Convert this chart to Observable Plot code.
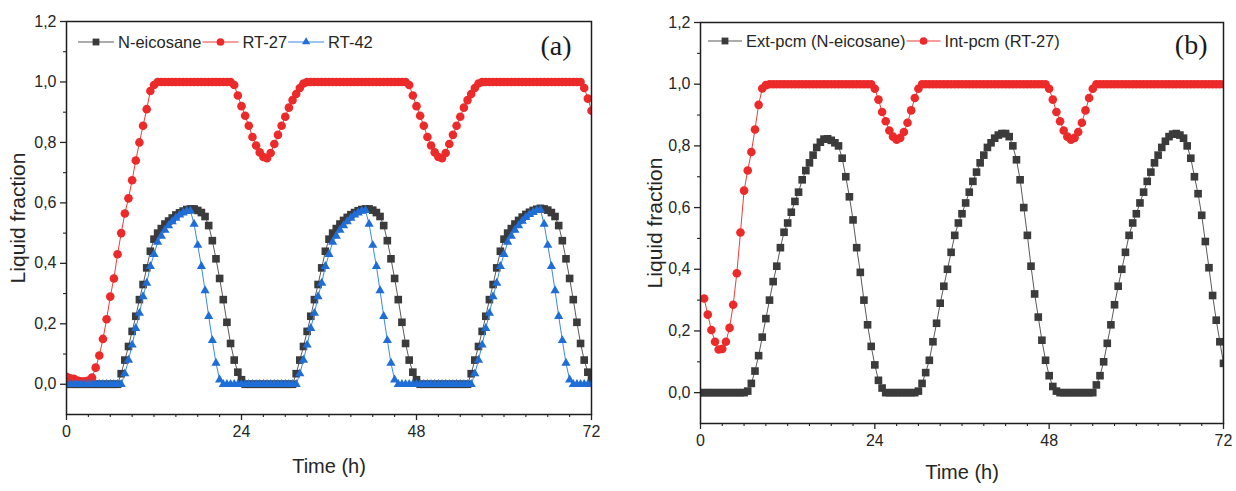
<!DOCTYPE html>
<html>
<head>
<meta charset="utf-8">
<script src="https://cdn.jsdelivr.net/npm/d3@7"></script>
<script src="https://cdn.jsdelivr.net/npm/@observablehq/plot@0.6"></script>
<style>
  html, body { margin: 0; padding: 0; background: #fff; }
  #fig { position: relative; width: 1236px; height: 491px; overflow: hidden;
         font-family: "Liberation Sans", Arial, sans-serif; }
  #fig > .panel { position: absolute; top: 0; }
</style>
</head>
<body>
<div id="fig">
  <div class="panel" id="panelA" style="left:0px"></div>
  <div class="panel" id="panelB" style="left:618px"></div>
</div>
<script>
// Sampling interval of the simulation output (hours)
const STEP = 0.5;
const time = d3.range(0, 72 + STEP / 2, STEP); // 0 … 72 h

// Axis ticks
const xTicks = [0, 24, 48, 72];
const xMinorTicks = [3, 6, 9, 12, 15, 18, 21, 27, 30, 33, 36, 39, 42, 45, 51, 54, 57, 60, 63, 66, 69];
const yTicks = [0, 0.2, 0.4, 0.6, 0.8, 1.0, 1.2];
const yMinorTicks = [0.1, 0.3, 0.5, 0.7, 0.9, 1.1];

// ---- Panel (a): liquid fraction of each PCM (one value every 0.5 h, rows of 6 h)
const aEicosane = [
  0, 0, 0, 0, 0, 0, 0, 0, 0, 0, 0, 0,
  0, 0, 0, 0.035, 0.08, 0.125, 0.175, 0.225, 0.28, 0.33, 0.385, 0.44,
  0.48, 0.50, 0.515, 0.53, 0.54, 0.55, 0.56, 0.567, 0.573, 0.578, 0.58, 0.58,
  0.575, 0.568, 0.555, 0.525, 0.475, 0.415, 0.35, 0.28, 0.205, 0.135, 0.08, 0.04,
  0.015, 0, 0, 0, 0, 0, 0, 0, 0, 0, 0, 0,
  0, 0, 0, 0.035, 0.08, 0.125, 0.175, 0.225, 0.28, 0.33, 0.385, 0.44,
  0.48, 0.50, 0.515, 0.53, 0.542, 0.552, 0.561, 0.568, 0.574, 0.578, 0.58, 0.58,
  0.576, 0.568, 0.555, 0.525, 0.475, 0.415, 0.35, 0.28, 0.205, 0.135, 0.08, 0.04,
  0.015, 0, 0, 0, 0, 0, 0, 0, 0, 0, 0, 0,
  0, 0, 0, 0.035, 0.08, 0.125, 0.175, 0.225, 0.28, 0.33, 0.385, 0.44,
  0.48, 0.50, 0.515, 0.53, 0.542, 0.553, 0.562, 0.569, 0.575, 0.579, 0.582, 0.58,
  0.576, 0.568, 0.555, 0.525, 0.475, 0.415, 0.35, 0.28, 0.205, 0.135, 0.08, 0.04,
  0.015
];
const aRT27 = [
  0.025, 0.02, 0.018, 0.012, 0.01, 0.01, 0.012, 0.022, 0.055, 0.095, 0.15, 0.215,
  0.29, 0.35, 0.43, 0.50, 0.565, 0.615, 0.675, 0.74, 0.80, 0.855, 0.91, 0.97,
  0.99, 1, 1, 1, 1, 1, 1, 1, 1, 1, 1, 1,
  1, 1, 1, 1, 1, 1, 1, 1, 1, 1, 0.99, 0.955,
  0.92, 0.888, 0.855, 0.818, 0.79, 0.767, 0.752, 0.748, 0.765, 0.795, 0.825, 0.855,
  0.885, 0.915, 0.94, 0.96, 0.98, 0.995, 1, 1, 1, 1, 1, 1,
  1, 1, 1, 1, 1, 1, 1, 1, 1, 1, 1, 1,
  1, 1, 1, 1, 1, 1, 1, 1, 1, 1, 0.99, 0.955,
  0.92, 0.888, 0.855, 0.818, 0.79, 0.767, 0.752, 0.748, 0.765, 0.795, 0.825, 0.855,
  0.885, 0.915, 0.94, 0.96, 0.98, 0.995, 1, 1, 1, 1, 1, 1,
  1, 1, 1, 1, 1, 1, 1, 1, 1, 1, 1, 1,
  1, 1, 1, 1, 1, 1, 1, 1, 1, 1, 0.98, 0.945,
  0.905
];
const aRT42 = [
  0, 0, 0, 0, 0, 0, 0, 0, 0, 0, 0, 0,
  0, 0, 0, 0, 0.035, 0.08, 0.13, 0.185, 0.235, 0.29, 0.335, 0.39,
  0.43, 0.47, 0.49, 0.51, 0.525, 0.538, 0.55, 0.56, 0.567, 0.573, 0.573, 0.53,
  0.46, 0.39, 0.31, 0.225, 0.145, 0.07, 0.015, 0, 0, 0, 0, 0,
  0, 0, 0, 0, 0, 0, 0, 0, 0, 0, 0, 0,
  0, 0, 0, 0, 0.035, 0.08, 0.13, 0.185, 0.235, 0.29, 0.335, 0.39,
  0.43, 0.47, 0.49, 0.51, 0.525, 0.538, 0.55, 0.56, 0.567, 0.573, 0.575, 0.53,
  0.46, 0.39, 0.31, 0.225, 0.145, 0.07, 0.015, 0, 0, 0, 0, 0,
  0, 0, 0, 0, 0, 0, 0, 0, 0, 0, 0, 0,
  0, 0, 0, 0, 0.035, 0.08, 0.13, 0.185, 0.235, 0.29, 0.335, 0.39,
  0.43, 0.47, 0.49, 0.51, 0.525, 0.54, 0.552, 0.562, 0.569, 0.575, 0.577, 0.53,
  0.46, 0.39, 0.31, 0.225, 0.145, 0.07, 0.015, 0, 0, 0, 0, 0,
  0
];

// ---- Panel (b): external / internal PCM layers
const bExtEicosane = [
  0, 0, 0, 0, 0, 0, 0, 0, 0, 0, 0, 0,
  0, 0.005, 0.03, 0.07, 0.12, 0.18, 0.24, 0.30, 0.36, 0.41, 0.47, 0.52,
  0.55, 0.585, 0.62, 0.65, 0.69, 0.72, 0.745, 0.77, 0.795, 0.812, 0.822, 0.823,
  0.818, 0.81, 0.80, 0.76, 0.70, 0.635, 0.56, 0.47, 0.39, 0.30, 0.22, 0.15,
  0.09, 0.04, 0.015, 0, 0, 0, 0, 0, 0, 0, 0, 0,
  0.005, 0.03, 0.065, 0.105, 0.165, 0.225, 0.29, 0.345, 0.40, 0.455, 0.51, 0.55,
  0.58, 0.615, 0.65, 0.685, 0.715, 0.745, 0.77, 0.795, 0.81, 0.825, 0.835, 0.84,
  0.84, 0.83, 0.80, 0.755, 0.69, 0.60, 0.51, 0.41, 0.32, 0.245, 0.17, 0.105,
  0.055, 0.02, 0.005, 0, 0, 0, 0, 0, 0, 0, 0, 0,
  0, 0.025, 0.055, 0.10, 0.16, 0.22, 0.285, 0.345, 0.40, 0.455, 0.51, 0.55,
  0.58, 0.615, 0.65, 0.685, 0.715, 0.745, 0.77, 0.795, 0.815, 0.83, 0.838, 0.84,
  0.835, 0.825, 0.80, 0.76, 0.70, 0.645, 0.575, 0.49, 0.405, 0.315, 0.235, 0.165,
  0.095
];
const bIntRT27 = [
  null, 0.305, 0.253, 0.203, 0.165, 0.14, 0.142, 0.165, 0.21, 0.285, 0.387, 0.519,
  0.655, 0.72, 0.78, 0.853, 0.933, 0.986, 0.997, 1, 1, 1, 1, 1,
  1, 1, 1, 1, 1, 1, 1, 1, 1, 1, 1, 1,
  1, 1, 1, 1, 1, 1, 1, 1, 1, 1, 1, 1,
  0.985, 0.95, 0.91, 0.88, 0.85, 0.83, 0.82, 0.826, 0.845, 0.875, 0.915, 0.955,
  0.985, 1, 1, 1, 1, 1, 1, 1, 1, 1, 1, 1,
  1, 1, 1, 1, 1, 1, 1, 1, 1, 1, 1, 1,
  1, 1, 1, 1, 1, 1, 1, 1, 1, 1, 1, 1,
  0.985, 0.95, 0.91, 0.88, 0.85, 0.83, 0.82, 0.826, 0.845, 0.875, 0.915, 0.955,
  0.985, 1, 1, 1, 1, 1, 1, 1, 1, 1, 1, 1,
  1, 1, 1, 1, 1, 1, 1, 1, 1, 1, 1, 1,
  1, 1, 1, 1, 1, 1, 1, 1, 1, 1, 1, 1,
  1
];

// Series styles
const GREY = {marker: "#3b3b3b", line: "#5a5a5a", symbol: "square", r: 4.3};
const RED = {marker: "#ec2a2a", line: "#ef3b3b", symbol: "circle", r: 4.3};
const BLUE = {marker: "#1f6ed8", line: "#3a8ae6", symbol: "triangle", r: 3.4};

const SANS = "'Liberation Sans', Arial, sans-serif";
const SERIF = "'Liberation Serif', 'Times New Roman', serif";
const INK = "#262626";

const commaFmt = d => d.toFixed(1).replace(".", ",");
const toRows = values => time.map((t, i) => ({t, v: values[i]})).filter(d => d.v != null);

function seriesMarks(values, s) {
  const rows = toRows(values);
  return [
    Plot.line(rows, {x: "t", y: "v", stroke: s.line, strokeWidth: 1, clip: true}),
    Plot.dot(rows, {x: "t", y: "v", symbol: s.symbol, r: s.r, fill: s.marker, stroke: "none", clip: true})
  ];
}

function drawPanel(el, cfg) {
  const svg = Plot.plot({
    width: 618,
    height: 491,
    marginLeft: cfg.margin.left,
    marginRight: cfg.margin.right,
    marginTop: cfg.margin.top,
    marginBottom: cfg.margin.bottom,
    x: {domain: [0, 72]},
    y: {domain: [-0.1, 1.2]},
    style: {fontFamily: SANS, fontSize: "16px", color: INK, background: "#fff", overflow: "visible"},
    marks: [
      ...cfg.series.flatMap(d => seriesMarks(d.values, d.style)),
      Plot.axisX({ticks: xTicks, tickFormat: d => String(d), tickSize: 6, tickPadding: 5, fontSize: 16, strokeWidth: 1.3, label: null}),
      Plot.axisX({ticks: xMinorTicks, tickFormat: () => "", tickSize: 3, strokeWidth: 1.1, label: null}),
      Plot.axisY({ticks: yTicks, tickFormat: commaFmt, tickSize: 6, tickPadding: 4, fontSize: 16, strokeWidth: 1.3, label: null}),
      Plot.axisY({ticks: yMinorTicks, tickFormat: () => "", tickSize: 3, strokeWidth: 1.1, label: null}),
      Plot.frame({stroke: "#1e1e1e", strokeWidth: 1.5}),
      Plot.text(["Time (h)"], {text: d => d, frameAnchor: "bottom", textAnchor: "middle", lineAnchor: "middle",
        dy: cfg.xLabelDy, fontSize: 20, fill: INK}),
      Plot.text(["Liquid fraction"], {text: d => d, frameAnchor: "left", textAnchor: "middle", lineAnchor: "middle",
        dx: cfg.yLabelDx, rotate: -90, fontSize: 21, fill: INK}),
      Plot.text([cfg.tag], {text: d => d, frameAnchor: "top-right", textAnchor: "end", lineAnchor: "middle", dx: cfg.tagDx, dy: cfg.tagDy,
        fontSize: 28, fontFamily: SERIF, fill: "#1a1a1a"})
    ]
  });
  el.appendChild(svg);

  // In-frame legend: short line with the series symbol, followed by its name
  const g = d3.select(svg).append("g")
    .attr("transform", `translate(${cfg.margin.left + cfg.legend.dx},${cfg.margin.top + cfg.legend.dy})`)
    .attr("font-family", SANS)
    .attr("font-size", cfg.legend.fontSize)
    .attr("text-anchor", "start");
  let cx = 0;
  for (const item of cfg.series) {
    const s = item.style;
    const L = cfg.legend.lineLength;
    g.append("line").attr("x1", cx).attr("x2", cx + L).attr("y1", 0).attr("y2", 0)
      .attr("stroke", s.line).attr("stroke-width", 1.2);
    const symType = {square: d3.symbolSquare, circle: d3.symbolCircle, triangle: d3.symbolTriangle}[s.symbol];
    g.append("path").attr("d", d3.symbol(symType, Math.PI * s.r * s.r * 0.8)())
      .attr("transform", `translate(${cx + L / 2},0)`).attr("fill", s.marker);
    const t = g.append("text").attr("x", cx + L + 4).attr("y", 0).attr("dy", "0.35em")
      .attr("fill", INK).style("text-anchor", "start").text(item.name);
    cx += L + 4 + t.node().getComputedTextLength() + 1;
  }
}

drawPanel(document.getElementById("panelA"), {
  margin: {left: 66, right: 27, top: 21, bottom: 77},
  xLabelDy: 52,
  yLabelDx: -48,
  tag: "(a)",
  tagDx: -20,
  tagDy: 25,
  legend: {dx: 12, dy: 21, lineLength: 36, fontSize: 16.5},
  series: [
    {name: "N-eicosane", values: aEicosane, style: GREY},
    {name: "RT-27", values: aRT27, style: RED},
    {name: "RT-42", values: aRT42, style: BLUE}
  ]
});

drawPanel(document.getElementById("panelB"), {
  margin: {left: 82, right: 13, top: 22, bottom: 68},
  xLabelDy: 49,
  yLabelDx: -45,
  tag: "(b)",
  tagDx: -16,
  tagDy: 23,
  legend: {dx: 8, dy: 19, lineLength: 34, fontSize: 16.5},
  series: [
    {name: "Ext-pcm (N-eicosane)", values: bExtEicosane, style: GREY},
    {name: "Int-pcm (RT-27)", values: bIntRT27, style: RED}
  ]
});
</script>
</body>
</html>
